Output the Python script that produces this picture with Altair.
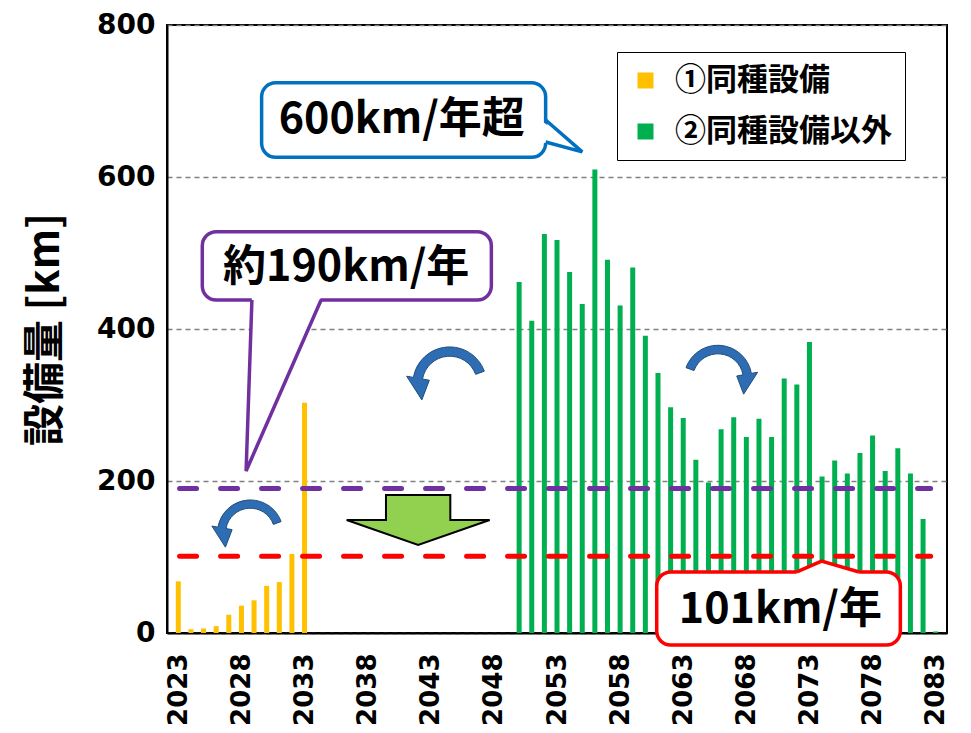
import altair as alt
import pandas as pd

# ---------------- data ----------------
orange_years = [2023, 2024, 2025, 2026, 2027, 2028, 2029, 2030, 2031, 2032, 2033]
orange_values = [68, 5, 6, 9, 24, 36, 43, 62, 67, 104, 303]

green_years = [2050, 2051, 2052, 2053, 2054, 2055, 2056, 2057, 2058, 2059,
               2060, 2061, 2062, 2063, 2064, 2065, 2066, 2067, 2068, 2069,
               2070, 2071, 2072, 2073, 2074, 2075, 2076, 2077, 2078, 2079,
               2080, 2081, 2082, 2083]
green_values = [462, 411, 525, 517, 475, 433, 610, 491, 431, 481,
                391, 342, 297, 283, 228, 198, 268, 284, 258, 282,
                258, 335, 327, 383, 206, 227, 210, 237, 260, 213,
                243, 210, 150, 2]

series_names = ["①同種設備", "②同種設備以外"]
series_colors = ["#FFC000", "#00B050"]

x_tick_years = [2023, 2028, 2033, 2038, 2043, 2048, 2053, 2058, 2063, 2068, 2073, 2078, 2083]
y_ticks = [0, 200, 400, 600, 800]
x_domain = [2022.5, 2083.5]
y_domain = [0, 800]
y_title = "設備量 [km]"

# reference levels (km/year)
level_values = [190, 101]
level_colors = ["#7030A0", "#FF0000"]
level_start = [2023.1, 2023.1]
level_end = [2082.6, 2082.6]

# callout boxes (data units: year / km)
box_x0 = [2029.6, 2024.9, 2060.9]
box_x1 = [2052.1, 2047.8, 2080.2]
box_y0 = [724, 528, 80.3]
box_y1 = [626, 438, -15.8]
box_colors = ["#0070C0", "#7030A0", "#FF0000"]

callout_texts = ["600km/年超", "約190km/年", "101km/年"]
callout_x = [2040.7, 2036.3, 2070.7]
callout_y = [675, 480, 30]

# callout pointers (polyline base -> tip -> base)
tail_id = ["blue", "blue", "blue", "purple", "purple", "purple", "red", "red", "red"]
tail_seq = [0, 1, 2, 0, 1, 2, 0, 1, 2]
tail_x = [2052.1, 2055.0, 2052.1, 2028.83, 2028.37, 2034.31, 2072.0, 2073.96, 2076.93]
tail_y = [675, 633, 646, 438.2, 213.2, 438.2, 80.3, 94.7, 80.3]
tail_col = ["#0070C0"] * 3 + ["#7030A0"] * 3 + ["#FF0000"] * 3

# white fills of the pointers
vfill_id = ["blue", "blue", "red", "red", "red"]
vfill_x = [2051.7, 2055.0, 2072.0, 2073.96, 2076.93]
vfill_y = [675, 633, 80.3, 94.7, 80.3]
vfill_y2 = [646, 633, 77, 77, 77]
hfill_y = [442, 213.2]
hfill_x = [2028.83, 2028.37]
hfill_x2 = [2034.31, 2028.37]

# curved arrows
CW = ("M -0.752 -0.074 A 0.8 0.8 0 0 1 0.788 0.061 L 0.936 0.035 L 0.606 0.55 "
      "L 0.443 0.122 L 0.591 0.096 A 0.6 0.6 0 0 0 -0.564 -0.005 Z")
CCW = ("M 0.752 -0.074 A 0.8 0.8 0 0 0 -0.788 0.061 L -0.936 0.035 L -0.606 0.55 "
       "L -0.443 0.122 L -0.591 0.096 A 0.6 0.6 0 0 1 0.564 -0.005 Z")
curve_x = [2028.7, 2044.5, 2065.75]
curve_y = [142.6, 340, 345]
curve_shape = [CCW, CCW, CW]
curve_size = [6724, 8464, 7200]

# green block arrow
DOWN = "M -0.45 -0.35 L 0.45 -0.35 L 0.45 0 L 1 0 L 0 0.35 L -1 0 L -0.45 0 Z"
down_x = [2042.0]
down_y = [148.7]

# ---------------- tables ----------------
bars = pd.DataFrame({
    "year": orange_years + green_years,
    "value": orange_values + green_values,
    "series": [series_names[0]] * len(orange_years) + [series_names[1]] * len(green_years),
})
levels = pd.DataFrame({"x0": level_start, "x1": level_end, "v": level_values, "c": level_colors})
boxes = pd.DataFrame({"x0": box_x0, "x1": box_x1, "y0": box_y0, "y1": box_y1, "c": box_colors})
texts = pd.DataFrame({"x": callout_x, "y": callout_y, "t": callout_texts})
tails = pd.DataFrame({"id": tail_id, "seq": tail_seq, "x": tail_x, "y": tail_y, "c": tail_col})
vfill = pd.DataFrame({"id": vfill_id, "x": vfill_x, "y": vfill_y, "y2": vfill_y2})
hfill = pd.DataFrame({"y": hfill_y, "x": hfill_x, "x2": hfill_x2})
curves = pd.DataFrame({"x": curve_x, "y": curve_y, "shape": curve_shape, "size": curve_size})
downs = pd.DataFrame({"x": down_x, "y": down_y})

XS = alt.Scale(domain=x_domain, nice=False, zero=False)
YS = alt.Scale(domain=y_domain, nice=False)

AXIS_FONT = "DejaVu Sans"
CJK = "Noto Sans CJK JP"

X_AXIS = alt.Axis(
    values=x_tick_years, format="d", labelAngle=-90, title=None, grid=False,
    ticks=False, tickSize=0, labelPadding=20, labelFont=AXIS_FONT,
    labelFontWeight="bold", labelFontSize=26, labelColor="black",
    domainColor="black", domainWidth=2, labelFlush=False)
Y_AXIS = alt.Axis(
    values=y_ticks, title=y_title, grid=True, gridDash=[5, 4], gridColor="#808080",
    gridWidth=1.5, ticks=False, tickSize=0, labelPadding=12, labelFont=AXIS_FONT,
    labelFontWeight="bold", labelFontSize=28, labelColor="black",
    domainColor="black", domainWidth=2, titleFont=CJK, titleFontSize=42,
    titleFontWeight="bold", titleColor="black", titleX=-122, titleY=304,
    titleAngle=270, titleAlign="center", titleBaseline="middle")


def X(f):
    return alt.X(f, type="quantitative", scale=XS, axis=X_AXIS, title=None)


def Y(f):
    return alt.Y(f, type="quantitative", scale=YS, axis=Y_AXIS, title=y_title)


bar_layer = alt.Chart(bars).mark_bar(size=5).encode(
    x=X("year"),
    y=Y("value"),
    color=alt.Color("series:N", scale=alt.Scale(domain=series_names, range=series_colors),
                    legend=alt.Legend(orient="none", legendX=450, legendY=27, title=None,
                                      symbolType="square", symbolSize=256,
                                      symbolStrokeWidth=0, labelFont=CJK,
                                      labelFontSize=31, labelFontWeight="bold",
                                      labelColor="black", strokeColor="black",
                                      fillColor="white", padding=13, rowPadding=19,
                                      labelOffset=14, labelLimit=400)),
)

level_layer = alt.Chart(levels).mark_rule(strokeDash=[17, 24], strokeCap="round", strokeWidth=5).encode(
    x=X("x0"), x2="x1", y=Y("v"), color=alt.Color("c:N", scale=None),
)

box_layer = alt.Chart(boxes).mark_rect(cornerRadius=14, fill="white", strokeWidth=3.5).encode(
    x=X("x0"), x2="x1", y=Y("y0"), y2="y1", stroke=alt.Stroke("c:N", scale=None),
)

vfill_layer = alt.Chart(vfill).mark_area(color="white", opacity=1).encode(
    x=X("x"), y=Y("y"), y2="y2", detail="id:N",
)

hfill_layer = alt.Chart(hfill).mark_area(color="white", opacity=1, orient="horizontal").encode(
    y=Y("y"), x=X("x"), x2="x2",
)

tail_layer = alt.Chart(tails).mark_line(strokeWidth=3.5).encode(
    x=X("x"), y=Y("y"), detail="id:N", order="seq:O", color=alt.Color("c:N", scale=None),
)

text_layer = alt.Chart(texts).mark_text(font=CJK, fontSize=43, fontWeight="bold", color="black").encode(
    x=X("x"), y=Y("y"), text="t:N",
)

curve_layer = alt.Chart(curves).mark_point(filled=True, fill="#2E6DB4", stroke="#1F4E79",
                                           strokeWidth=1, opacity=1).encode(
    x=X("x"), y=Y("y"), shape=alt.Shape("shape:N", scale=None), size=alt.Size("size:Q", scale=None),
)

down_layer = alt.Chart(downs).mark_point(shape=DOWN, size=20449, filled=True, fill="#92D050",
                                         stroke="black", strokeWidth=2, opacity=1).encode(
    x=X("x"), y=Y("y"),
)

chart = alt.layer(
    bar_layer, level_layer, box_layer, vfill_layer, hfill_layer, tail_layer,
    text_layer, curve_layer, down_layer,
).properties(
    width=780, height=608,
    autosize=alt.AutoSizeParams(type="none"),
    padding={"left": 159, "top": 17, "right": 16, "bottom": 92},
    background="white",
).configure_view(stroke="black", strokeWidth=2)

chart.save("out.html", embed_options={"renderer": "svg", "actions": False})
